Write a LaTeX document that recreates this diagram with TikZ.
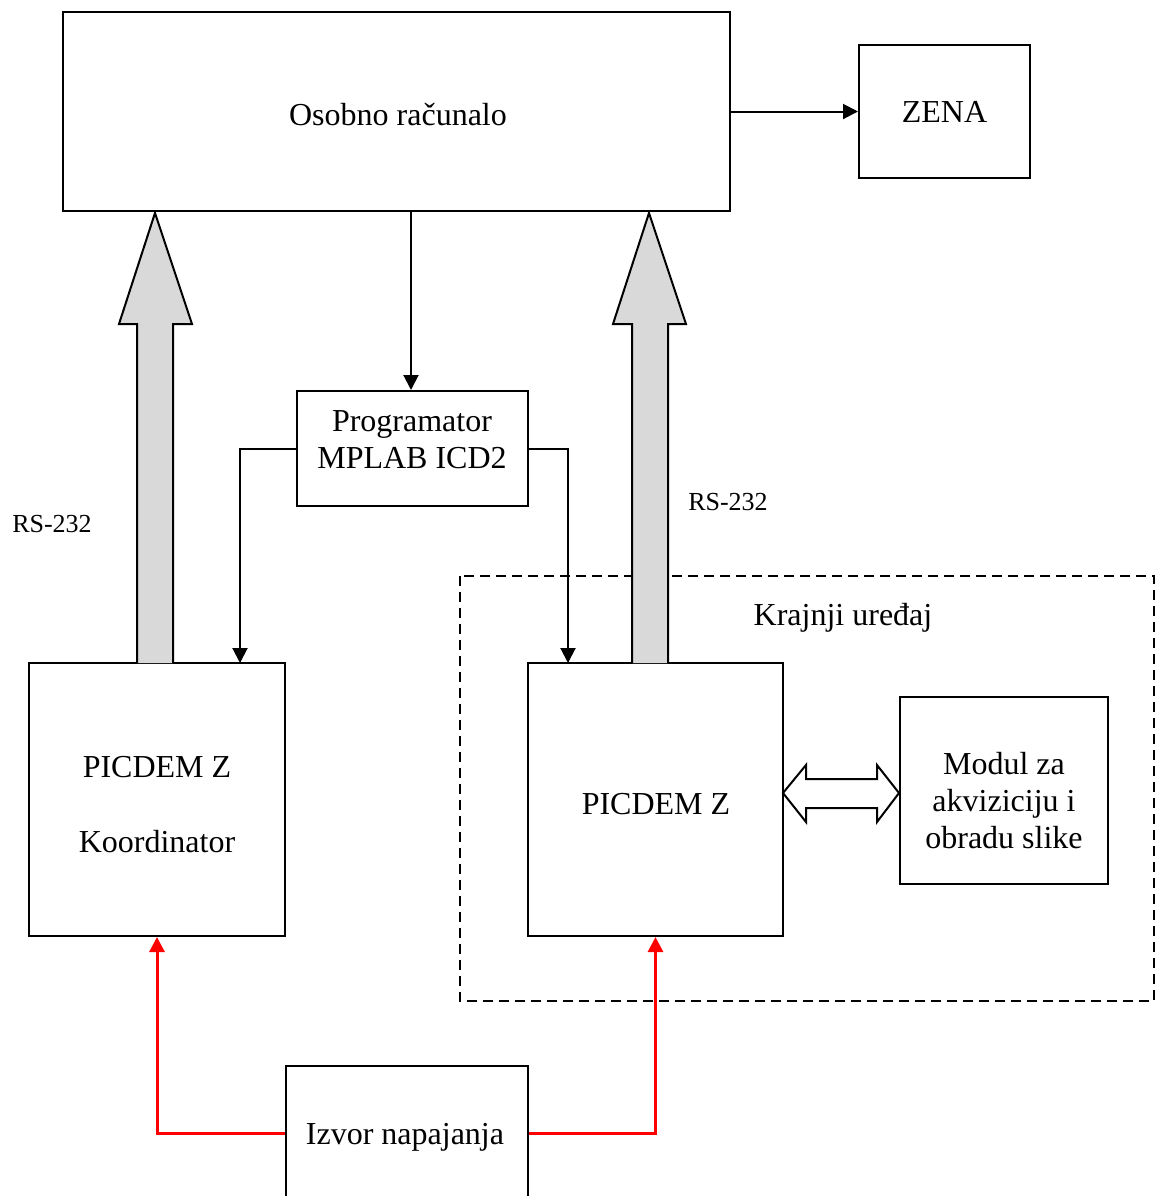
\documentclass[tikz,border=0pt]{standalone}
\usepackage{fontspec}
\setmainfont{Liberation Serif}
\usetikzlibrary{arrows.meta}
\definecolor{arrgray}{HTML}{D9D9D9}
\begin{document}
\begin{tikzpicture}[x=0.5pt,y=-0.5pt,
  box/.style={draw,line width=1pt,inner sep=0pt,align=center,font=\fontsize{16}{18.5}\selectfont},
  txt/.style={inner sep=0pt,align=center,font=\fontsize{16}{18.5}\selectfont},
  small/.style={inner sep=0pt,font=\fontsize{13}{15}\selectfont},
  arr/.style={-{Triangle[length=7.5pt,width=7.5pt]},line width=1pt},
  redarr/.style={-{Triangle[length=7.5pt,width=7.5pt]},line width=1.5pt,red},
  bigarrow/.style={draw,line width=1pt,fill=arrgray,line join=miter}]
\path[use as bounding box] (0,0) rectangle (1160,1196);
\clip (0,0) rectangle (1160,1196);
\fill[white] (0,0) rectangle (1160,1196);

% dashed group
\draw[line width=0.8pt,dash pattern=on 5pt off 3pt] (460,576) rectangle (1154,1001);
\node[txt] (kraj) at (843,618) {Krajnji uređaj};

% boxes
\node[box,minimum width=333.5pt,minimum height=99.5pt] (pc) at (396.5,111.5) {};
\node[txt] (pcT) at (398,115) {Osobno računalo};
\node[box,minimum width=85.5pt,minimum height=66.5pt] (zena) at (944.5,111.5) {ZENA};
\node[box,minimum width=115.5pt,minimum height=57.5pt] (prog) at (412.5,448.5) {};
\node[txt] (progT) at (412,440) {Programator\\MPLAB ICD2};
\node[box,minimum width=128pt,minimum height=136.5pt] (picL) at (157,799.5) {};
\node[txt] (picLT) at (157,805) {PICDEM Z\\[19pt]Koordinator};
\node[box,minimum width=127.5pt,minimum height=136.5pt] (picR) at (655.5,799.5) {};
\node[txt] (picRT) at (656,804) {PICDEM Z};
\node[box,minimum width=104pt,minimum height=93.5pt] (modul) at (1004,790.5) {};
\node[txt] (modulT) at (1004,801) {Modul za\\akviziciju i\\obradu slike};
\node[box,minimum width=121pt,minimum height=67pt] (izvor) at (407,1133) {};
\node[txt] (izvorT) at (405,1137) {Izvor napajanja};

% labels
\node[small] (rsL) at (52,524) {RS-232};
\node[small] (rsR) at (728,502) {RS-232};

% big gray arrows
\draw[bigarrow] (137,663) -- (137,324) -- (119,324) -- (155,213) -- (192,324) -- (173,324) -- (173,663);
\draw[bigarrow] (632,663) -- (632,324) -- (613,324) -- (649,213) -- (686,324) -- (668,324) -- (668,663);

% double hollow arrow
\draw[line width=1pt,fill=white,line join=miter] (783,793) -- (806,765) -- (806,779) -- (877,779) -- (877,765) -- (899,793) -- (877,822) -- (877,808) -- (806,808) -- (806,822) -- cycle;

% connectors
\draw[arr] (pc.east) -- (zena.west);
\coordinate (pcOut) at (411,211);
\coordinate (progIn) at (411,390);
\draw[arr] (pcOut) -- (progIn);
\coordinate (pl) at (240,663);
\coordinate (pr) at (568,663);
\draw[arr] (prog.west) -| (pl);
\draw[arr] (prog.east) -| (pr);
\draw[redarr] (izvor.west) -| (picL.south);
\draw[redarr] (izvor.east) -| (picR.south);
\end{tikzpicture}
\end{document}
